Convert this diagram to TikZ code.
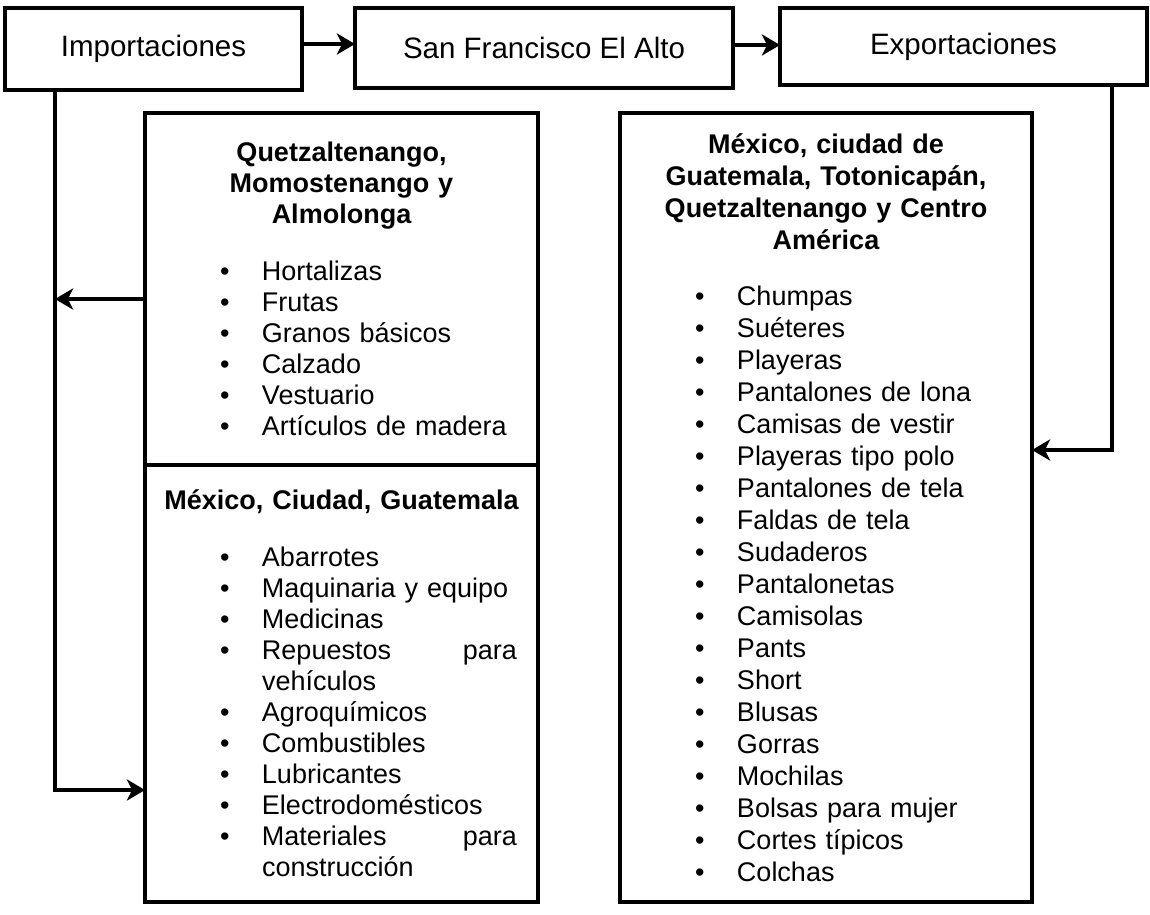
\documentclass[tikz,border=0pt]{standalone}
\usepackage{fontspec}
\setmainfont{Liberation Sans}
\usetikzlibrary{arrows.meta, positioning, calc}

\newcommand{\itm}[1]{\par\noindent\hspace*{58pt}\makebox[42pt][l]{\textbullet}#1}
\newcommand{\itmwrap}[3]{\par\noindent\hspace*{58pt}\makebox[42pt][l]{\textbullet}\makebox[255pt][l]{#1\hfill #2}%
  \par\noindent\hspace*{100pt}#3}

\tikzset{
  topbox/.style={draw, line width=4pt, anchor=north west, inner sep=0pt, outer sep=0pt,
    font=\fontsize{29.5}{34}\selectfont},
  listbox/.style={draw, line width=4pt, anchor=north west, inner xsep=17pt, inner ysep=0pt,
    outer sep=0pt, align=left, font=\fontsize{27}{31}\selectfont},
  flow/.style={line width=4pt, -{Stealth[length=18pt, width=21pt, inset=5pt]}},
}

\begin{document}
\begin{tikzpicture}[x=1pt, y=-1pt]
  \useasboundingbox (0,0) rectangle (1150,914);

  % top row
  \node [topbox, minimum width=297, minimum height=82] (imp) at (5,8) {Importaciones};
  \node [topbox, minimum width=378, minimum height=80] (sf) at (355,8) {San Francisco El Alto};
  \node [topbox, minimum width=367, minimum height=77] (exp) at (780,8) {Exportaciones};

  \draw [flow] ([yshift=5pt]imp.east) -- ([yshift=5pt]imp.east -| sf.west);
  \draw [flow] ([yshift=3pt]sf.east) -- ([yshift=3pt]sf.east -| exp.west);

  % imports
  \node [listbox, text width=359, minimum height=352] (quetz) at (145,113) {%
    {\centering\bfseries Quetzaltenango,\\ Momostenango y\\ Almolonga\par}
    \vspace{26pt}
    \itm{Hortalizas}
    \itm{Frutas}
    \itm{Granos básicos}
    \itm{Calzado}
    \itm{Vestuario}
    \itm{Artículos de madera}};
  \node [listbox, text width=359, minimum height=437, below=0pt of quetz] (mexc) {%
    {\centering\bfseries México, Ciudad, Guatemala\par}
    \vspace{26pt}
    \itm{Abarrotes}
    \itm{Maquinaria y equipo}
    \itm{Medicinas}
    \itmwrap{Repuestos}{para}{vehículos}
    \itm{Agroquímicos}
    \itm{Combustibles}
    \itm{Lubricantes}
    \itm{Electrodomésticos}
    \itmwrap{Materiales}{para}{construcción}};

  % exports
  \node [listbox, text width=378, minimum height=789, font=\fontsize{27}{32}\selectfont] (expl) at (620,113) {%
    {\centering\bfseries México, ciudad de\\ Guatemala, Totonicapán,\\ Quetzaltenango y Centro\\ América\par}
    \vspace{24pt}
    \itm{Chumpas}
    \itm{Suéteres}
    \itm{Playeras}
    \itm{Pantalones de lona}
    \itm{Camisas de vestir}
    \itm{Playeras tipo polo}
    \itm{Pantalones de tela}
    \itm{Faldas de tela}
    \itm{Sudaderos}
    \itm{Pantalonetas}
    \itm{Camisolas}
    \itm{Pants}
    \itm{Short}
    \itm{Blusas}
    \itm{Gorras}
    \itm{Mochilas}
    \itm{Bolsas para mujer}
    \itm{Cortes típicos}
    \itm{Colchas}};

  % connectors
  \coordinate (trunk) at (55,790);
  \coordinate (trunkR) at (1112,450);
  \draw [flow] ([yshift=-10pt]quetz.west) -- ([yshift=-10pt]quetz.west -| trunk);
  \draw [flow] (imp.south -| trunk) -- (trunk) -- (trunk -| mexc.west);
  \draw [flow] (exp.south -| trunkR) -- (trunkR) -- (trunkR -| expl.east);
\end{tikzpicture}
\end{document}
